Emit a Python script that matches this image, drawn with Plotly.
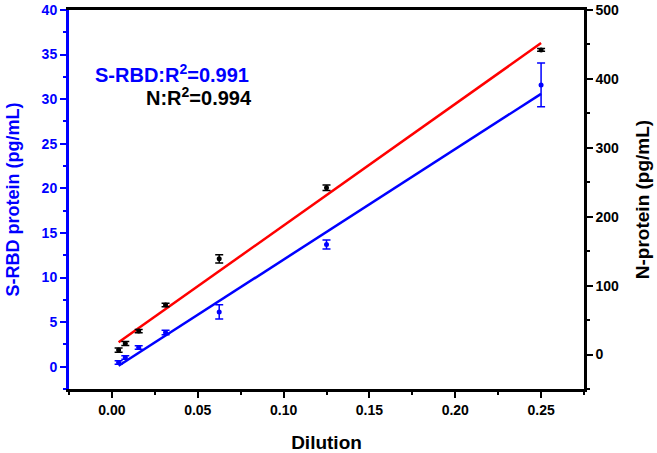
import plotly.graph_objects as go

# Data
dilution = [0.0039, 0.0078, 0.0156, 0.03125, 0.0625, 0.125, 0.25]
srbd = [0.48, 1.04, 2.16, 3.83, 6.14, 13.7, 31.6]
srbd_err = [0.2, 0.2, 0.2, 0.25, 0.8, 0.5, 2.45]
nprot = [6.5, 16, 34, 72, 139, 242, 442]
nprot_err = [3, 3, 2.5, 2.5, 6, 4, 2]

# Fitted lines (endpoints)
fit_x = [0.0039, 0.25]
fit_srbd = [0.1, 30.6]
fit_n = [17.7, 452]

BLUE = "#0000ff"
RED = "#ff0000"
BLACK = "#000000"
FONT = "Liberation Sans, Arial, sans-serif"

fig = go.Figure()

fig.add_trace(go.Scatter(x=fit_x, y=fit_srbd, mode="lines",
                         line=dict(color=BLUE, width=2.5), yaxis="y", showlegend=False))
fig.add_trace(go.Scatter(x=fit_x, y=fit_n, mode="lines",
                         line=dict(color=RED, width=2.5), yaxis="y2", showlegend=False))
fig.add_trace(go.Scatter(x=dilution, y=srbd, mode="markers",
                         marker=dict(color=BLUE, size=5),
                         error_y=dict(type="data", array=srbd_err, color=BLUE, thickness=1.5, width=4),
                         yaxis="y", showlegend=False))
fig.add_trace(go.Scatter(x=dilution, y=nprot, mode="markers",
                         marker=dict(color=BLACK, size=5),
                         error_y=dict(type="data", array=nprot_err, color=BLACK, thickness=1.5, width=4),
                         yaxis="y2", showlegend=False))

tickfont = dict(family=FONT, size=14, weight=700)

fig.update_layout(
    width=657, height=453,
    margin=dict(l=69, r=73, t=10, b=64, autoexpand=False),
    paper_bgcolor="white", plot_bgcolor="white",
    xaxis=dict(
        range=[-0.025, 0.275], tick0=0, dtick=0.05, tickformat=".2f",
        showgrid=False, zeroline=False, automargin=False,
        showline=True, linecolor=BLACK, linewidth=2.5, mirror=True,
        ticks="outside", ticklen=6, tickwidth=2, tickcolor=BLACK,
        minor=dict(ticks="outside", ticklen=3, tickwidth=2, dtick=0.025, tick0=0, tickcolor=BLACK),
        tickfont=dict(color=BLACK, **tickfont),
        title=dict(text="<b>Dilution</b>", font=dict(family=FONT, size=19, color=BLACK), standoff=22),
    ),
    yaxis=dict(
        range=[-2.5, 40], tick0=0, dtick=5,
        showgrid=False, zeroline=False, automargin=False,
        showline=True, linecolor=BLUE, linewidth=3,
        ticks="outside", ticklen=6, tickwidth=2, tickcolor=BLUE,
        minor=dict(ticks="outside", ticklen=3, tickwidth=2, dtick=2.5, tick0=0, tickcolor=BLUE),
        tickfont=dict(color=BLUE, **tickfont),
        title=dict(text="<b>S-RBD protein (pg/mL)</b>", font=dict(family=FONT, size=18, color=BLUE), standoff=18),
    ),
    yaxis2=dict(
        range=[-50, 500], tick0=0, dtick=100, overlaying="y", side="right",
        showgrid=False, zeroline=False, automargin=False,
        showline=True, linecolor=BLACK, linewidth=2.5,
        ticks="outside", ticklen=6, tickwidth=2, tickcolor=BLACK,
        minor=dict(ticks="outside", ticklen=3, tickwidth=2, dtick=50, tick0=0, tickcolor=BLACK),
        tickfont=dict(color=BLACK, **tickfont),
        title=dict(text="<b>N-protein (pg/mL)</b>", font=dict(family=FONT, size=19, color=BLACK), standoff=18),
    ),
    annotations=[
        dict(x=-0.011, y=32.9, xref="x", yref="y", xanchor="left", yanchor="middle",
             text="<b>S-RBD:R<sup>2</sup>=0.991</b>", showarrow=False,
             font=dict(family=FONT, size=20, color=BLUE)),
        dict(x=0.0187, y=30.3, xref="x", yref="y", xanchor="left", yanchor="middle",
             text="<b>N:R<sup>2</sup>=0.994</b>", showarrow=False,
             font=dict(family=FONT, size=20, color=BLACK)),
    ],
)

fig.write_html("out.html", config={"displayModeBar": False},
               post_script="document.body.style.margin='0';")
